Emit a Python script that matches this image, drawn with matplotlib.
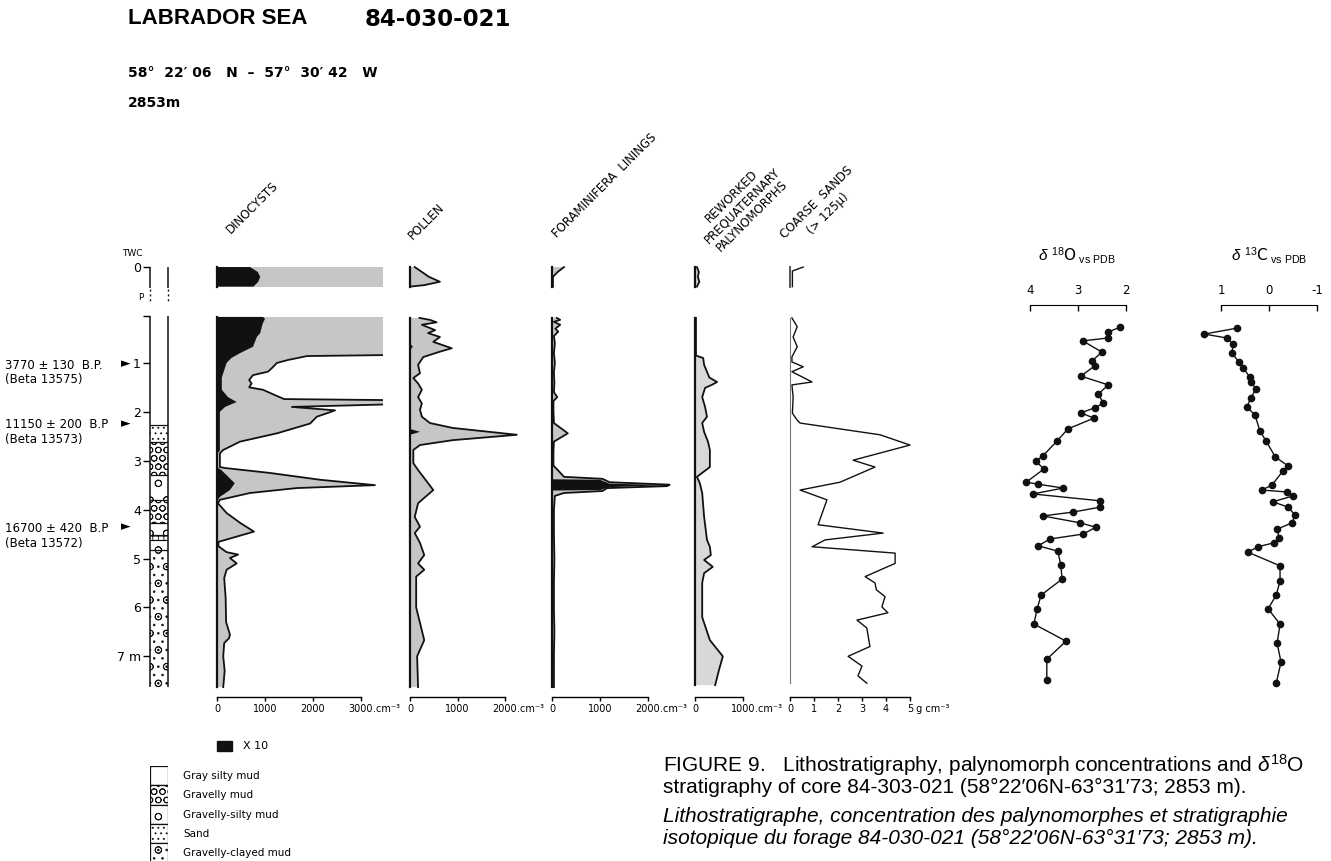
import numpy as np
import matplotlib
matplotlib.use('Agg')
import matplotlib.pyplot as plt
from matplotlib.patches import Rectangle

plt.rcParams['font.family'] = ['DejaVu Sans']
plt.rcParams['mathtext.fontset'] = 'custom'
plt.rcParams['mathtext.rm'] = 'Liberation Sans'
plt.rcParams['mathtext.it'] = 'Liberation Sans:italic'
plt.rcParams['mathtext.bf'] = 'Liberation Sans:bold'
plt.rcParams['hatch.linewidth'] = 0.6

# ---- data (depth in m, piston core; TWC depths are drawn above the core) ----
twc_depth = [0.0, 0.1, 0.2, 0.3, 0.4]
dino_twc_black = [690, 850, 900, 860, 760]
dino_twc_total = [3500, 3500, 3500, 3500, 3500]

dino_depth = [0.06, 0.84, 0.86, 0.94, 1.0, 1.11, 1.18, 1.25, 1.35, 1.42,
              1.5, 1.55, 1.66, 1.74, 1.76, 1.85, 1.90, 1.97, 2.03, 2.1,
              2.24, 2.44, 2.61, 2.78, 2.85, 3.13, 3.15, 3.25, 3.39, 3.5,
              3.56, 3.66, 3.8, 3.87, 4.07, 4.27, 4.45, 4.66, 4.75, 4.87,
              4.92, 4.99, 5.1, 5.23, 5.4, 5.8, 6.3, 6.56, 6.63, 6.73,
              7.0, 7.3, 7.63]
dino_total = [3500, 3500, 1875, 1480, 1250, 1140, 1060, 750, 670, 720,
              670, 960, 1210, 1400, 3500, 3500, 1560, 2460, 2290, 2080,
              1940, 1250, 480, 130, 60, 60, 170, 1100, 2150, 3290,
              1660, 690, 60, 20, 200, 480, 770, 30, 30, 200,
              440, 270, 410, 200, 150, 180, 190, 270, 250, 150,
              130, 160, 130]
dino_black_depth = [0.06, 0.1, 0.2, 0.39, 0.47, 0.67, 0.8, 0.9, 1.0, 1.3,
                    1.55, 1.7, 1.8, 1.9, 2.0, 2.8, 2.85, 3.13, 3.2, 3.46,
                    3.6, 3.74, 3.8, 4.5, 5.5, 6.5, 7.63]
dino_black = [960, 1000, 950, 900, 830, 750, 480, 300, 200, 100,
              100, 230, 410, 170, 60, 60, 0, 0, 100, 370,
              270, 60, 20, 20, 20, 20, 20]

pollen_twc_depth = [0.0, 0.1, 0.2, 0.3, 0.37, 0.4]
pollen_twc = [100, 250, 400, 630, 300, 0]
pollen_depth = [0.08, 0.12, 0.17, 0.22, 0.33, 0.39, 0.47, 0.57, 0.7, 0.77,
                0.88, 1.04, 1.21, 1.31, 1.42, 1.55, 1.7, 1.83, 1.96, 2.1,
                2.23, 2.33, 2.47, 2.58, 2.68, 2.78, 3.05, 3.19, 3.6, 3.87,
                4.15, 4.35, 4.48, 4.68, 4.93, 5.1, 5.23, 5.37, 6.0, 6.67,
                7.0, 7.63]
pollen_total = [200, 420, 560, 250, 530, 380, 630, 490, 880, 630,
                280, 170, 210, 70, 170, 250, 170, 250, 210, 250,
                420, 900, 2250, 900, 210, 70, 70, 170, 490, 170,
                100, 210, 100, 210, 300, 170, 300, 130, 130, 300,
                150, 170]
pollen_black_depth = [0.08, 0.6, 0.67, 0.74, 2.35, 2.41, 2.47, 7.63]
pollen_black = [0, 0, 60, 0, 0, 210, 0, 0]

foram_twc_depth = [0.0, 0.1, 0.2, 0.4]
foram_twc = [250, 120, 20, 20]
foram_depth = [0.08, 0.12, 0.16, 0.22, 0.3, 0.36, 0.45, 0.6, 0.8, 1.0,
               1.2, 1.4, 1.6, 1.7, 1.78, 2.0, 2.23, 2.44, 2.61, 2.8,
               3.1, 3.19, 3.33, 3.37, 3.44, 3.49, 3.52, 3.56, 3.62, 3.66,
               3.72, 4.0, 4.5, 5.0, 5.5, 6.0, 6.5, 7.0, 7.63]
foram_total = [100, 170, 40, 170, 70, 130, 40, 60, 40, 60,
               40, 50, 40, 110, 30, 30, 40, 330, 40, 30,
               30, 120, 250, 1050, 1200, 2450, 2400, 1150, 1050, 250,
               60, 40, 40, 50, 40, 40, 50, 40, 40]
foram_black_depth = [3.38, 3.39, 3.47, 3.5, 3.54, 3.6, 3.61]
foram_black = [0, 1000, 1200, 2400, 1200, 1000, 0]

rework_twc = [40, 80, 60, 90, 40]
rework_depth = [0.08, 0.5, 0.85, 0.9, 1.04, 1.3, 1.39, 1.45, 1.51, 1.7,
                1.9, 2.1, 2.23, 2.41, 2.61, 2.78, 3.13, 3.33, 3.46, 3.66,
                4.15, 4.62, 4.76, 4.93, 5.03, 5.17, 5.3, 5.5, 6.2, 6.67,
                7.0, 7.28, 7.59]
rework_total = [20, 20, 20, 170, 190, 300, 460, 350, 210, 150,
                210, 250, 150, 190, 270, 310, 310, 40, 100, 150,
                190, 250, 310, 330, 190, 370, 190, 150, 150, 310,
                580, 500, 420]

sand_twc_depth = [0.0, 0.08, 0.4]
sand_twc = [0.55, 0.1, 0.1]
sand_depth = [0.08, 0.26, 0.47, 0.67, 0.88, 0.98, 1.08, 1.18, 1.39, 1.45,
              1.7, 2.03, 2.17, 2.23, 2.47, 2.68, 2.99, 3.13, 3.44, 3.6,
              3.8, 4.31, 4.48, 4.62, 4.76, 4.89, 5.1, 5.37, 5.5, 5.64,
              5.78, 5.99, 6.11, 6.26, 6.42, 6.8, 7.0, 7.2, 7.4, 7.55]
sand_value = [0.08, 0.3, 0.13, 0.3, 0.08, 0.08, 0.55, 0.08, 0.92, 0.08,
              0.13, 0.1, 0.3, 0.42, 3.75, 5.0, 2.63, 3.54, 2.08, 0.42,
              1.54, 1.17, 3.88, 1.46, 0.92, 4.38, 4.38, 3.13, 3.54, 3.6,
              3.96, 3.83, 4.08, 2.79, 3.2, 3.33, 2.42, 3.0, 2.83, 3.2]

d18o_depth = [0.27, 0.37, 0.49, 0.55, 0.78, 0.96, 1.06, 1.27, 1.45, 1.64,
              1.82, 1.92, 2.02, 2.13, 2.35, 2.60, 2.90, 3.01, 3.17, 3.44,
              3.48, 3.56, 3.68, 3.82, 3.95, 4.05, 4.13, 4.27, 4.36, 4.50,
              4.60, 4.74, 4.85, 5.13, 5.42, 5.75, 6.03, 6.34, 6.69, 7.06,
              7.48]
d18o = [2.13, 2.37, 2.37, 2.9, 2.5, 2.71, 2.65, 2.94, 2.37, 2.58,
        2.47, 2.65, 2.94, 2.67, 3.21, 3.44, 3.73, 3.88, 3.71, 4.08,
        3.83, 3.31, 3.94, 2.54, 2.54, 3.1, 3.73, 2.96, 2.63, 2.89,
        3.58, 3.83, 3.42, 3.36, 3.33, 3.77, 3.85, 3.92, 3.25, 3.65,
        3.65]

d13c_depth = [0.29, 0.41, 0.49, 0.61, 0.80, 0.98, 1.10, 1.29, 1.39, 1.53,
              1.72, 1.90, 2.07, 2.39, 2.60, 2.92, 3.11, 3.21, 3.50, 3.60,
              3.64, 3.72, 3.84, 3.95, 4.11, 4.27, 4.40, 4.58, 4.68, 4.76,
              4.87, 5.15, 5.46, 5.75, 6.03, 6.34, 6.73, 7.12, 7.55]
d13c = [0.67, 1.35, 0.88, 0.75, 0.77, 0.63, 0.54, 0.40, 0.38, 0.27,
        0.38, 0.46, 0.29, 0.19, 0.06, -0.13, -0.40, -0.29, -0.06, 0.15,
        -0.38, -0.50, -0.08, -0.40, -0.54, -0.48, -0.17, -0.21, -0.10, 0.23,
        0.44, -0.23, -0.23, -0.15, 0.02, -0.23, -0.17, -0.25, -0.15]

litho_top = [0.04, 2.27, 2.62, 3.29, 3.8, 4.27, 4.52, 4.62, 4.83]
litho_bottom = [2.27, 2.62, 3.29, 3.8, 4.27, 4.52, 4.62, 4.83, 7.63]
litho_kind = ['gray', 'sand', 'gravelly', 'gravelly-silty', 'gravelly',
              'gravelly-silty', 'laminated', 'gravelly-silty', 'gravelly-clayed']

legend_kind = ['gray', 'gravelly', 'gravelly-silty', 'sand', 'gravelly-clayed']
legend_names = ['Gray silty mud', 'Gravelly mud', 'Gravelly-silty mud', 'Sand',
                'Gravelly-clayed mud']

ages = ['3770 ± 130  B.P.', '11150 ± 200  B.P', '16700 ± 420  B.P']
age_labs = ['(Beta 13575)', '(Beta 13573)', '(Beta 13572)']

# ---- layout helpers (pixel positions on the 1331x861 canvas) ----
W, H = 1331, 861
PX_PER_M = 48.9
PX_ZERO = 314
TWC_SHIFT = -0.96
INK = '#111111'
GREY = '#c6c6c6'
LIGHT = '#d8d8d8'
HATCH = {'gray': '', 'sand': '...', 'gravelly': 'OO', 'gravelly-silty': 'o',
         'gravelly-clayed': 'o..', 'laminated': '+++'}
LIB = ['Liberation Sans', 'DejaVu Sans']


def depth_at(py):
    return (py - PX_ZERO) / PX_PER_M


YTOP, YBOT = depth_at(255), depth_at(697)

fig = plt.figure(figsize=(W / 100, H / 100), dpi=100)


def box(x0, y0, x1, y1):
    return [x0 / W, 1 - y1 / H, (x1 - x0) / W, (y1 - y0) / H]


def ftext(x, y, s, **kw):
    return fig.text(x / W, 1 - y / H, s, **kw)


def panel(zero_px, ppu, right_px, ticks, unit):
    ax = fig.add_axes(box(zero_px - 5, 255, right_px, 697))
    ax.set_xlim(-5 / ppu, (right_px - zero_px) / ppu)
    ax.set_ylim(YBOT, YTOP)
    ax.patch.set_visible(False)
    for s in ['top', 'right', 'left']:
        ax.spines[s].set_visible(False)
    ax.spines['bottom'].set_bounds(ticks[0], ticks[-1])
    ax.spines['bottom'].set_linewidth(1.0)
    ax.set_xticks(ticks)
    ax.set_xticklabels([str(t) for t in ticks])
    ax.set_yticks([])
    ax.tick_params(axis='x', direction='out', length=3, width=1, labelsize=7, pad=2)
    half = len(str(ticks[-1])) * 0.636 * 7 / 2
    ax.annotate(unit, xy=(ticks[-1], 0), xycoords=('data', 'axes fraction'),
                xytext=(half, -5), textcoords='offset points', ha='left', va='top',
                fontsize=7)
    return ax


def curve(ax, depth, total, fill=GREY, shift=0.0, black_depth=None, black=None):
    d = np.asarray(depth) + shift
    ax.fill_betweenx(d, 0, total, facecolor=fill, edgecolor='none', lw=0)
    if black is not None:
        bd = np.asarray(black_depth) + shift
        ax.fill_betweenx(bd, 0, black, facecolor=INK, edgecolor='none', lw=0)
    ax.plot(total, d, color=INK, lw=1.3)
    ax.plot([0, 0], [d[0], d[-1]], color=INK, lw=1.6)


# ---- title block ----
ftext(128, 18, 'LABRADOR SEA', fontsize=16, fontweight='bold', family=LIB, va='center')
ftext(365, 19, '84-030-021', fontsize=16.5, fontweight='bold', va='center')
ftext(128, 73, '58°  22′ 06   N  –  57°  30′ 42   W', fontsize=10,
      fontweight='bold', va='center')
ftext(128, 103, '2853m', fontsize=10, fontweight='bold', va='center')

# ---- lithology column ----
axl = fig.add_axes(box(150, 255, 168, 697))
axl.set_xlim(0, 1)
axl.set_ylim(YBOT, YTOP)
axl.patch.set_visible(False)
for s in axl.spines.values():
    s.set_visible(False)
for top, bot, kind in zip(litho_top, litho_bottom, litho_kind):
    axl.fill_betweenx([top, bot], 0, 1, facecolor='white', edgecolor=INK,
                      hatch=HATCH[kind], lw=0)
axl.hlines(litho_top[1:], 0, 1, color=INK, lw=0.9)
axl.vlines([0, 1], litho_top[0], litho_bottom[-1], color=INK, lw=1.1, clip_on=False)
axl.vlines([0, 1], TWC_SHIFT, TWC_SHIFT + 0.42, color=INK, lw=1.1, clip_on=False)
axl.vlines([0, 1], TWC_SHIFT + 0.44, TWC_SHIFT + 0.74, color=INK, lw=1.0,
           linestyles=(0, (1.5, 2)), clip_on=False)
axl.set_xticks([])
axl.set_yticks([TWC_SHIFT, litho_top[0], 1, 2, 3, 4, 5, 6, 7])
axl.set_yticklabels(['0', '', '1', '2', '3', '4', '5', '6', '7 m'])
axl.tick_params(axis='y', direction='out', length=5, width=1, pad=1.5, labelsize=9)
ftext(132, 253, 'TWC', fontsize=6.5, ha='center', va='center')
ftext(141, 297, 'P', fontsize=6.5, ha='center', va='center')

for (py, age, lab) in zip([365, 425, 528], ages, age_labs):
    ftext(5, py, age, fontsize=8.5, va='center')
    ftext(5, py + 15, lab, fontsize=8.5, va='center')
    ftext(126, py - 1, '►', fontsize=9, ha='center', va='center')

# ---- palynomorph panels ----
ax = panel(217, 0.048, 383, [0, 1000, 2000, 3000], '.cm⁻³')
curve(ax, twc_depth, dino_twc_total, shift=TWC_SHIFT,
      black_depth=twc_depth, black=dino_twc_black)
curve(ax, dino_depth, dino_total, black_depth=dino_black_depth, black=dino_black)

ax = panel(410, 0.0475, 530, [0, 1000, 2000], '.cm⁻³')
curve(ax, pollen_twc_depth, pollen_twc, shift=TWC_SHIFT)
curve(ax, pollen_depth, pollen_total, black_depth=pollen_black_depth, black=pollen_black)

ax = panel(552, 0.048, 680, [0, 1000, 2000], '.cm⁻³')
curve(ax, foram_twc_depth, foram_twc, shift=TWC_SHIFT)
curve(ax, foram_depth, foram_total, black_depth=foram_black_depth, black=foram_black)

ax = panel(695, 0.048, 775, [0, 1000], '.cm⁻³')
curve(ax, twc_depth, rework_twc, fill=LIGHT, shift=TWC_SHIFT)
curve(ax, rework_depth, rework_total, fill=LIGHT)

ax = panel(790, 24, 916, [0, 1, 2, 3, 4, 5], ' g cm⁻³')
d = np.asarray(sand_twc_depth) + TWC_SHIFT
ax.plot(sand_twc, d, color=INK, lw=1.0)
ax.plot([0, 0], [d[0], d[-1]], color='#555555', lw=1.4)
ax.plot(sand_value, sand_depth, color=INK, lw=1.0)
ax.plot([0, 0], [sand_depth[0], sand_depth[-1]], color='#777777', lw=0.8)

# column headings
hd = dict(fontsize=8.5, rotation=45, rotation_mode='anchor', ha='center',
          va='center', multialignment='center')
ftext(252, 208, 'DINOCYSTS', **hd)
ftext(426, 221, 'POLLEN', **hd)
ftext(605, 185, 'FORAMINIFERA  LININGS', **hd)
ftext(742, 206, 'REWORKED\nPREQUATERNARY\nPALYNOMORPHS', linespacing=1.1, **hd)
ftext(822, 208, 'COARSE  SANDS\n(> 125µ)', linespacing=1.3, **hd)

# x10 key
fig.add_artist(Rectangle((217 / W, 1 - 751 / H), 15 / W, 10 / H,
                         transform=fig.transFigure, color=INK))
ftext(243, 746, 'X 10', fontsize=8, va='center')

# lithology legend
axg = fig.add_axes(box(150, 766, 168, 861))
axg.set_xlim(0, 1)
axg.set_ylim(4.92, 0)
axg.axis('off')
for i, kind in enumerate(legend_kind):
    axg.fill_betweenx([i, i + 1], 0, 1, facecolor='white', edgecolor=INK,
                      hatch=HATCH[kind], lw=0.9)
for i, name in enumerate(legend_names):
    ftext(183, 776 + i * 19.3, name, fontsize=7.5, va='center')


# ---- isotope panels ----
def iso_panel(x0, x1, xlim, ticks, labels):
    ax = fig.add_axes(box(x0, 305, x1, 697))
    ax.set_xlim(*xlim)
    ax.set_ylim(YBOT, depth_at(305))
    ax.patch.set_visible(False)
    for s in ['bottom', 'right', 'left']:
        ax.spines[s].set_visible(False)
    ax.spines['top'].set_bounds(min(ticks), max(ticks))
    ax.xaxis.tick_top()
    ax.set_xticks(ticks)
    ax.set_xticklabels(labels)
    ax.set_yticks([])
    ax.tick_params(axis='x', direction='in', length=4, width=1, labelsize=8.5, pad=6)
    return ax


ax = iso_panel(1015, 1135, (4.3125, 1.8125), [4, 3, 2], ['4', '3', '2'])
ax.plot(d18o, d18o_depth, '-o', color=INK, lw=1.0, ms=4.5)
ftext(1077, 255, r'$\delta$ $^{18}$O$_{\rm\ vs\ PDB}$', fontsize=11, ha='center',
      va='center')

ax = iso_panel(1195, 1325, (1.5417, -1.1667), [1, 0, -1], ['1', '0', '-1'])
ax.plot(d13c, d13c_depth, '-o', color=INK, lw=1.0, ms=4.5)
ftext(1269, 255, r'$\delta$ $^{13}$C$_{\rm\ vs\ PDB}$', fontsize=11, ha='center',
      va='center')

# ---- caption ----
cap = dict(fontsize=15, family=LIB, va='center')
ftext(663, 765, r'FIGURE 9.   Lithostratigraphy, palynomorph concentrations and $\delta^{18}$O',
      **cap)
ftext(663, 787, 'stratigraphy of core 84-303-021 (58°22′06N-63°31′73; 2853 m).', **cap)
ftext(663, 816, 'Lithostratigraphe, concentration des palynomorphes et stratigraphie',
      style='italic', **cap)
ftext(663, 838, 'isotopique du forage 84-030-021 (58°22′06N-63°31′73; 2853 m).',
      style='italic', **cap)

fig.savefig('out.png', dpi=100)
